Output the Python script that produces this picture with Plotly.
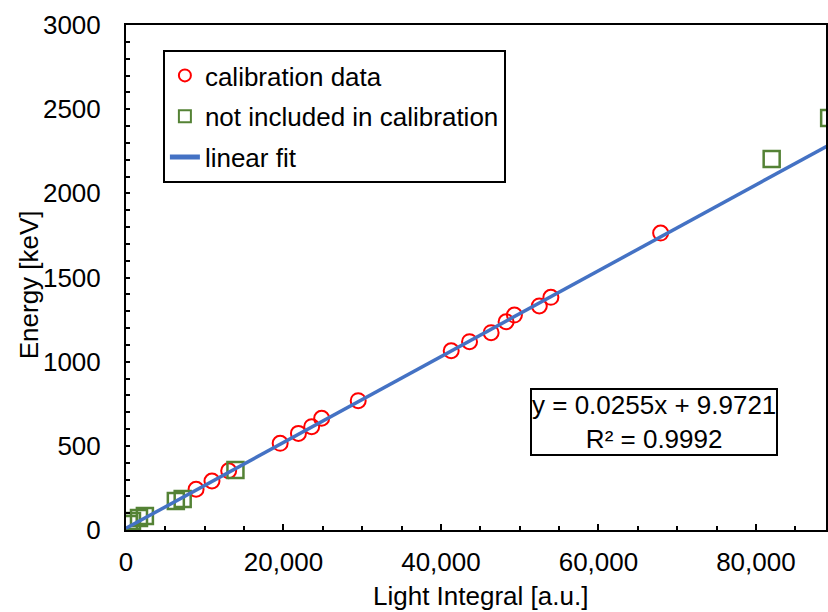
import plotly.graph_objects as go

# Calibration peaks: light integral [a.u.] vs. known gamma energy [keV]
calib_x = [8900, 10920, 13040, 19580, 21900, 23580, 24850, 29490,
           41300, 43630, 46370, 48270, 49330, 52490, 53960, 67900]
calib_y = [242, 291, 352, 515, 574, 614, 664, 768,
           1065, 1119, 1172, 1237, 1277, 1331, 1382, 1764]

# Peaks left out of the fit
excl_x = [380, 760, 1650, 2400, 6330, 7200, 13900, 82000, 89300]
excl_y = [36, 53, 71, 83, 172, 184, 356, 2204, 2448]

# Linear fit coefficients and goodness of fit
slope = 0.0255
intercept = 9.9721
r_squared = 0.9992
fit_x = [0, 95000]
fit_y = [slope * v + intercept for v in fit_x]

x_ticks = [0, 20000, 40000, 60000, 80000]
x_tick_text = ["0", "20,000", "40,000", "60,000", "80,000"]
y_ticks = [0, 500, 1000, 1500, 2000, 2500, 3000]

FONT = "Liberation Sans, Arial, sans-serif"
W, H = 828, 612
ML, MR, MT, MB = 126, 0, 25, 82

fig = go.Figure()
fig.add_trace(go.Scatter(
    x=calib_x, y=calib_y, mode="markers", name="calibration data",
    legendgroup="a",
    marker=dict(symbol="circle", size=15, color="rgba(0,0,0,0)",
                line=dict(color="#FF0000", width=2)),
))
fig.add_trace(go.Scatter(
    x=excl_x, y=excl_y, mode="markers", name="not included in calibration",
    legendgroup="b",
    marker=dict(symbol="square", size=16, color="rgba(0,0,0,0)",
                line=dict(color="#548235", width=2.5)),
))
fig.add_trace(go.Scatter(
    x=fit_x, y=fit_y, mode="lines", name="linear fit", legendgroup="c",
    line=dict(color="#4472C4", width=3.5),
))

axis_common = dict(
    showgrid=False, zeroline=False, showline=True, linecolor="black",
    linewidth=2, mirror=True, ticks="inside", tickcolor="black",
    tickwidth=1.5, tickfont=dict(family=FONT, size=26, color="black"),
)
fig.update_xaxes(
    range=[0, 88900], tickvals=x_ticks, ticktext=x_tick_text, ticklen=6,
    ticklabelstandoff=8,
    minor=dict(dtick=5000, ticks="inside", ticklen=4, tickcolor="black",
               tickwidth=1.5),
    **axis_common,
)
fig.update_yaxes(
    range=[0, 3000], tickvals=y_ticks, ticklen=4, ticklabelstandoff=18,
    minor=dict(dtick=100, ticks="inside", ticklen=4, tickcolor="black",
               tickwidth=1.5),
    **axis_common,
)

def px_x(p):
    return (p - ML) / (W - ML - MR)

def px_y(p):
    return 1 - (p - MT) / (H - MT - MB)

text_font = dict(family=FONT, size=26, color="black")
fig.add_annotation(
    text="Light Integral [a.u.]", xref="paper", yref="paper",
    x=px_x(482), y=px_y(596), xanchor="center", yanchor="middle",
    showarrow=False, font=text_font,
)
fig.add_annotation(
    text="Energy [keV]", xref="paper", yref="paper", textangle=-90,
    x=px_x(29), y=px_y(285), xanchor="center", yanchor="middle",
    showarrow=False, font=text_font,
)
fig.add_annotation(
    text=f"y = {slope}x + {intercept}<br>R² = {r_squared}",
    xref="paper", yref="paper", x=px_x(656), y=px_y(422),
    xanchor="center", yanchor="middle",
    showarrow=False, align="center", bordercolor="black", borderwidth=2,
    borderpad=0, bgcolor="white", font=text_font,
)

fig.update_layout(
    width=W, height=H, autosize=False,
    margin=dict(l=ML, r=MR, t=MT, b=MB),
    paper_bgcolor="white", plot_bgcolor="white",
    font=text_font,
    showlegend=True,
    legend=dict(
        x=px_x(163), y=px_y(50), xanchor="left", yanchor="top",
        bgcolor="white", bordercolor="black", borderwidth=2,
        font=text_font, tracegroupgap=4, itemsizing="constant",
    ),
)

fig.write_html("out.html")
